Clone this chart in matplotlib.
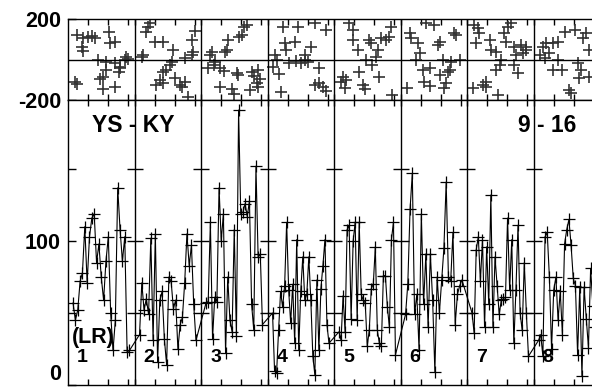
import numpy as np
import matplotlib
matplotlib.use('Agg')
import matplotlib.pyplot as plt

plt.rcParams['font.family'] = ['Liberation Sans', 'DejaVu Sans']
plt.rcParams['font.weight'] = 'bold'

# days per month panel, 8 months shown
days_per_seg = 33
n_seg = 8
seg_labels = ['1', '2', '3', '4', '5', '6', '7', '8']

# top panel: scatter (day within month, value)
top_x = [
    [4.3, 7.6, 9.9, 11.9, 13.5, 20.1, 6.9, 7.6, 20.8, 23.4, 15.0, 19.1, 23.4, 25.7, 28.4, 30.0, 29.0, 3.5, 4.3, 15.8, 17.5, 19.1, 17.2, 23.4, 25.1, 25.7],
    [7.6, 6.9, 5.9, 4.3, 3.6, 10.2, 14.2, 19.1, 18.5, 17.5, 15.8, 14.2, 12.5, 10.9, 14.2, 20.1, 22.4, 23.8, 25.1, 26.7, 28.4, 30.0, 28.4, 29.0, 25.1],
    [22.8, 21.5, 20.1, 19.1, 13.5, 12.9, 11.9, 5.3, 4.6, 6.9, 6.3, 3.6, 9.6, 11.2, 17.8, 18.5, 25.1, 26.1, 28.4, 27.7, 29.4, 9.6, 15.2, 16.2, 24.1, 28.4],
    [7.6, 15.2, 23.4, 29.0, 8.6, 13.5, 9.2, 3.6, 4.6, 10.9, 14.2, 18.5, 18.8, 16.8, 21.8, 2.6, 5.6, 25.7, 23.4, 25.7, 27.4, 29.0, 6.9, 20.1],
    [7.6, 9.2, 9.2, 11.9, 17.5, 18.5, 23.4, 25.7, 21.8, 20.8, 15.8, 19.1, 12.5, 22.4, 4.3, 3.6, 5.9, 5.3, 14.2, 15.2, 28.4, 27.4, 29.0],
    [12.9, 16.8, 4.6, 5.3, 8.6, 19.5, 18.5, 26.7, 27.7, 9.6, 7.9, 11.2, 14.5, 21.1, 25.1, 29.4, 24.4, 3.0, 11.9, 14.5, 22.8, 21.8, 19.5, 23.4],
    [3.6, 5.3, 5.9, 18.5, 20.1, 21.8, 11.2, 4.6, 19.5, 11.9, 14.5, 23.4, 26.7, 29.4, 27.7, 24.4, 29.4, 16.8, 16.2, 14.5, 23.4, 25.1, 9.6, 7.9, 3.0, 15.2, 9.6],
    [4.6, 6.3, 9.6, 12.2, 15.5, 20.5, 26.1, 24.4, 3.0, 5.6, 7.9, 12.2, 9.6, 13.9, 22.1, 23.8, 22.8, 27.7, 17.8, 18.5, 27.7],
]
top_y = [
    [121, 105, 113, 116, 105, 137, 63, 44, 80, 88, -2, -11, -19, -36, -2, 1, 14, -110, -121, -98, -85, -52, -147, -134, -60, -43],
    [179, 159, 137, 22, 14, 88, 88, 47, -11, -27, -52, -60, -101, -126, -118, -93, -126, -137, -110, -184, 96, 142, 22, 39, 6],
    [170, 159, 121, 110, 96, 47, 35, 39, 22, -11, -27, -40, -43, -55, -65, -76, -60, -81, -52, -118, -98, -137, -147, -170, -151, -134],
    [162, 162, 179, 146, 80, 88, 47, 22, -2, -19, -6, 22, -2, -19, 63, -36, -72, -43, -126, -118, -137, -154, -159, -11],
    [179, 146, 96, 47, 96, 80, 105, 96, 47, 14, -2, -27, -60, -85, -85, -110, -101, -142, -126, -147, 162, 113, -175],
    [179, 170, 129, 105, 80, 88, 72, 129, 121, 31, -2, -52, -43, -2, -11, -2, -52, -142, -110, -131, -118, -142, -76, -60],
    [170, 154, 132, 129, 162, 179, 96, 80, 88, 47, 39, 63, 72, 63, 31, 22, 47, -2, -27, -52, -27, -68, -110, -126, -142, -175, -134],
    [63, 80, 83, 88, 137, 146, 129, 105, 22, 6, 31, -2, -52, -52, -19, -52, -93, -85, -151, -164, 47],
]

# bottom panel: daily series per month
bottom_y = [
    [57, 45, 52, 72, 78, 110, 71, 103, 116, 119, 85, 98, 75, 59, 86, 103, 50, 24, 45, 137, 108, 86, 103, 23, 24],
    [35, 71, 52, 60, 49, 102, 31, 105, 16, 59, 65, 32, 14, 75, 72, 53, 59, 25, 42, 47, 71, 105, 83, 97, 56, 31],
    [57, 58, 113, 32, 61, 58, 137, 100, 119, 22, 75, 45, 37, 108, 34, 191, 119, 120, 126, 117, 128, 56, 38, 152, 89, 91, 42],
    [50, 10, 8, 38, 65, 54, 69, 113, 66, 43, 70, 29, 101, 24, 65, 89, 59, 63, 89, 59, 20, 7, 73, 24, 67, 83, 101, 42, 29],
    [37, 31, 62, 37, 108, 111, 46, 100, 113, 45, 113, 63, 59, 57, 27, 38, 67, 70, 96, 38, 29, 27, 76, 76, 54, 40, 101, 113, 21],
    [49, 70, 122, 147, 49, 63, 24, 119, 56, 91, 40, 91, 59, 9, 75, 50, 73, 95, 141, 75, 72, 106, 42, 63, 69, 73],
    [50, 36, 94, 103, 72, 101, 40, 96, 56, 132, 40, 89, 69, 49, 59, 60, 61, 116, 66, 101, 29, 66, 111, 50, 38, 85, 50, 20],
    [31, 35, 20, 103, 106, 75, 25, 66, 75, 45, 65, 35, 98, 108, 115, 97, 74, 69, 21, 68, 6, 68, 46, 26, 81, 55, 40],
]

fig = plt.figure(figsize=(5.92, 3.88), dpi=100)
W, H = 592.0, 388.0
left = 68 / W
width = n_seg * 66.5 / W
ax_top = fig.add_axes([left, (H - 100) / H, width, 81 / H])
ax_bot = fig.add_axes([left, (H - 385) / H, width, 285 / H])

xmax = n_seg * days_per_seg
bounds = [k * days_per_seg for k in range(1, n_seg)]
minor = [k * days_per_seg + d for k in range(n_seg) for d in (10, 20, 30)]

# top scatter
for k in range(n_seg):
    xs = np.array(top_x[k]) + k * days_per_seg
    ax_top.plot(xs, top_y[k], ls='none', marker='+', ms=9, mew=1.2, color='0.2')
ax_top.axhline(0, color='black', lw=1)
ax_top.set_xlim(0, xmax)
ax_top.set_ylim(-200, 200)
ax_top.set_yticks([-200, 200])
ax_top.set_yticklabels(['-200', '200'])

# bottom line
all_x = []
all_y = []
for k in range(n_seg):
    n = len(bottom_y[k])
    all_x.extend(k * days_per_seg + np.linspace(2.5, 30.5, n))
    all_y.extend(bottom_y[k])
ax_bot.plot(all_x, all_y, color='black', lw=0.8, marker='+', ms=9, mew=0.9)
ax_bot.set_xlim(0, xmax)
ax_bot.set_ylim(0, 198)
ax_bot.set_yticks([0, 50, 100, 150])
ax_bot.set_yticklabels(['0', '', '100', ''])

for ax in (ax_top, ax_bot):
    for b in bounds:
        ax.axvline(b, color='black', lw=1)
    ax.set_xticks(minor + bounds)
    ax.set_xticklabels([])
    ax.tick_params(axis='x', direction='in', top=True, bottom=True, length=4, width=1)
    ax.tick_params(axis='y', direction='in', length=6, width=1, labelsize=15.5, pad=5)
    for s in ax.spines.values():
        s.set_linewidth(1)

# lift the "0" label a little so it stays in the picture
ax_bot.get_yticklabels()[0].set_va('bottom')

# y ticks on the month dividers of the lower panel
for b in bounds:
    ax_bot.plot([b] * 3, [50, 100, 150], ls='none', marker='_', ms=11, mew=1, color='black')

ax_bot.text(32.3, 180, 'YS - KY', ha='center', va='center', fontsize=16.5, fontweight='bold')
ax_bot.text(238, 180, '9 - 16', ha='center', va='center', fontsize=16.5, fontweight='bold')
ax_bot.text(2.0, 33, '(LR)', ha='left', va='center', fontsize=15.5, fontweight='bold')
for k in range(n_seg):
    ax_bot.text(k * days_per_seg + 4.5, 19, seg_labels[k], ha='left', va='center',
                fontsize=14, fontweight='bold')

fig.savefig('out.png', dpi=100)
